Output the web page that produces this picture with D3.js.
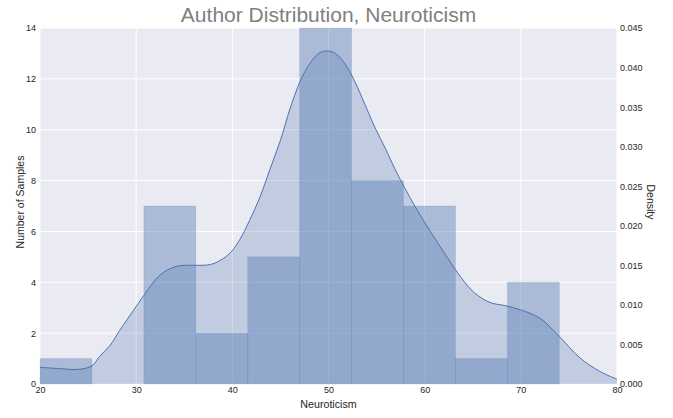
<!DOCTYPE html>
<html><head><meta charset="utf-8">
<script src="https://cdn.jsdelivr.net/npm/d3@7"></script>
<style>body{margin:0;background:#fff;} svg{display:block;font-family:"Liberation Sans",Arial,sans-serif;}</style>
</head><body><svg id="c" width="673" height="418"></svg>
<script>
const binEdges = [20, 25.4, 30.8, 36.2, 41.6, 47, 52.4, 57.8, 63.2, 68.6, 74];
const binCounts = [1, 0, 7, 2, 5, 14, 8, 7, 1, 4];
const kdeX = [20, 22, 24, 25.4, 26.2, 27.3, 28.3, 30, 30.8, 32.5, 34, 35, 36.5, 37.7, 38.7, 39.8, 40.8, 41.8, 42.9, 43.9, 45, 46, 47, 48, 49, 49.8, 50.7, 51.7, 52.75, 53.8, 54.8, 55.9, 56.9, 57.7, 59.5, 61.6, 63.7, 65.2, 66.8, 68.4, 69.9, 72, 74, 76.15, 78.2, 80];
const kdeY = [0.00211, 0.00195, 0.00185, 0.0023, 0.0035, 0.0049, 0.0068, 0.0098, 0.0112, 0.0138, 0.0148, 0.0150, 0.0150, 0.0151, 0.0156, 0.0166, 0.0183, 0.0207, 0.0237, 0.0271, 0.0308, 0.0348, 0.0381, 0.0404, 0.0418, 0.0421, 0.0418, 0.0405, 0.0382, 0.0353, 0.0325, 0.0298, 0.0272, 0.0253, 0.0214, 0.0174, 0.0136, 0.0115, 0.0103, 0.0099, 0.0094, 0.0083, 0.0060, 0.0033, 0.0016, 0.0006];
const xTicks = [20, 30, 40, 50, 60, 70, 80];
const yTicks = [0, 2, 4, 6, 8, 10, 12, 14];
const densTicks = [0, 0.005, 0.01, 0.015, 0.02, 0.025, 0.03, 0.035, 0.04, 0.045];
const title = "Author Distribution, Neuroticism";

const W = 673, H = 418;
const m = {l: 40, r: 56, t: 28, b: 34};
const svg = d3.select("#c");
const x = d3.scaleLinear().domain([20, 80]).range([m.l, W - m.r]);
const y = d3.scaleLinear().domain([0, 14]).range([H - m.b, m.t]);
const y2 = d3.scaleLinear().domain([0, 0.045]).range([H - m.b, m.t]);
const blue = "#4c72b0";
const FF = "Liberation Sans, Arial, sans-serif";

svg.append("rect").attr("x", m.l).attr("y", m.t).attr("width", W - m.l - m.r).attr("height", H - m.t - m.b).attr("fill", "#eaeaf2");

// grid
svg.append("g").selectAll("line").data(xTicks).join("line")
  .attr("x1", d => x(d)).attr("x2", d => x(d)).attr("y1", m.t).attr("y2", H - m.b)
  .attr("stroke", "#fff").attr("stroke-width", 1);
svg.append("g").selectAll("line").data(yTicks).join("line")
  .attr("x1", m.l).attr("x2", W - m.r).attr("y1", d => y(d)).attr("y2", d => y(d))
  .attr("stroke", "#fff").attr("stroke-width", 1);

// bars
const bins = binCounts.map((c, i) => ({x0: binEdges[i], x1: binEdges[i + 1], c}));
svg.append("g").selectAll("rect").data(bins.filter(b => b.c > 0)).join("rect")
  .attr("x", d => x(d.x0)).attr("width", d => x(d.x1) - x(d.x0))
  .attr("y", d => y(d.c)).attr("height", d => y(0) - y(d.c))
  .attr("fill", blue).attr("fill-opacity", 0.4)
  .attr("stroke", blue).attr("stroke-opacity", 0.2).attr("stroke-width", 0.8);

// kde
const pts = kdeX.map((v, i) => [v, kdeY[i]]);
svg.append("path").datum(pts)
  .attr("d", d3.area().x(d => x(d[0])).y0(y2(0)).y1(d => y2(d[1])).curve(d3.curveCatmullRom))
  .attr("fill", blue).attr("fill-opacity", 0.25);
svg.append("path").datum(pts)
  .attr("d", d3.line().x(d => x(d[0])).y(d => y2(d[1])).curve(d3.curveCatmullRom))
  .attr("fill", "none").attr("stroke", blue).attr("stroke-width", 1);

// axes
const fmt = d3.format(".3f");
const ax = d3.axisBottom(x).tickValues(xTicks).tickSize(0).tickPadding(3);
const gx = svg.append("g").attr("transform", `translate(0,${H - m.b})`).call(ax);
const ayl = d3.axisLeft(y).tickValues(yTicks).tickSize(0).tickPadding(4);
const gy = svg.append("g").attr("transform", `translate(${m.l},0)`).call(ayl);
const ayr = d3.axisRight(y2).tickValues(densTicks).tickFormat(fmt).tickSize(0).tickPadding(3);
const gy2 = svg.append("g").attr("transform", `translate(${W - m.r},0)`).call(ayr);
[gx, gy, gy2].forEach(g => {
  g.select(".domain").remove();
  g.selectAll("text").attr("font-size", 9).attr("fill", "#262626").attr("font-family", FF);
});

svg.append("text").attr("x", (m.l + W - m.r) / 2).attr("y", 408).attr("text-anchor", "middle")
  .attr("font-size", 10.7).attr("fill", "#262626").attr("font-family", FF).text("Neuroticism");
svg.append("text").attr("transform", `translate(24,202) rotate(-90)`).attr("text-anchor", "middle")
  .attr("font-size", 10.5).attr("fill", "#262626").attr("font-family", FF).text("Number of Samples");
svg.append("text").attr("transform", `translate(647,202) rotate(90)`).attr("text-anchor", "middle")
  .attr("font-size", 10.5).attr("fill", "#262626").attr("font-family", FF).text("Density");
svg.append("text").attr("x", (m.l + W - m.r) / 2).attr("y", 22).attr("text-anchor", "middle")
  .attr("font-size", 21).attr("fill", "#808080").attr("font-family", FF).text(title);
</script></body></html>
